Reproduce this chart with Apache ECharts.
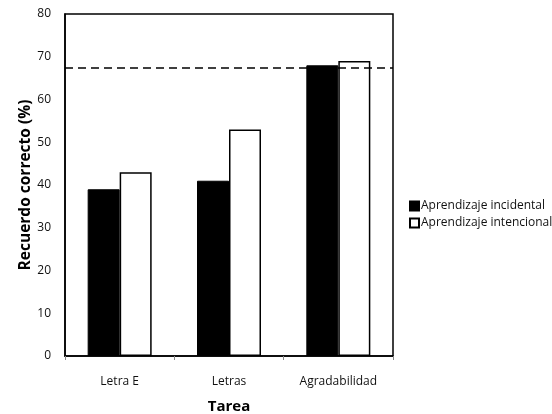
<!DOCTYPE html>
<html><head><meta charset="utf-8">
<script src="https://cdn.jsdelivr.net/npm/echarts@6/dist/echarts.min.js"></script>
<style>html,body{margin:0;padding:0;background:#fff}#c{width:552px;height:414px}</style>
</head><body><div id="c"></div>
<script>
const categories = ['Letra E', 'Letras', 'Agradabilidad'];
const incidental = [39, 41, 68];
const intencional = [43, 53, 69];
const referenceLevel = 67.5;
const seriesNames = ['Aprendizaje incidental', 'Aprendizaje intencional'];
const yTicks = { min: 0, max: 80, interval: 10 };

const font = 'Open Sans';
const chart = echarts.init(document.getElementById('c'));
chart.setOption({
  animation: false,
  backgroundColor: '#fff',
  textStyle: { fontFamily: font },
  grid: { left: 65, right: 159, top: 14, bottom: 58, containLabel: false, outerBoundsMode: 'none', show: true, borderColor: '#000', borderWidth: 1.5, backgroundColor: 'transparent' },
  legend: {
    orient: 'vertical', left: 404, top: 195, itemWidth: 9, itemHeight: 9, itemGap: 5,
    icon: 'rect',
    textStyle: { fontFamily: font, fontSize: 12, color: '#111', padding: [0, 0, 0, -3] },
    data: seriesNames
  },
  xAxis: {
    type: 'category', data: categories,
    name: 'Tarea', nameLocation: 'middle', nameGap: 43, nameMoveOverlap: false,
    nameTextStyle: { fontFamily: font, fontSize: 15, fontWeight: 'bold', color: '#000' },
    axisLine: { lineStyle: { color: '#000', width: 1.5 } },
    axisTick: { show: true, length: 4, lineStyle: { color: '#888' } },
    axisLabel: { fontSize: 12, color: '#111', margin: 20 }
  },
  yAxis: {
    type: 'value', min: yTicks.min, max: yTicks.max, interval: yTicks.interval,
    name: 'Recuerdo correcto (%)', nameLocation: 'middle', nameGap: 31, nameMoveOverlap: false,
    nameTextStyle: { fontFamily: font, fontSize: 15.5, fontWeight: 'bold', color: '#000' },
    axisLine: { show: true, lineStyle: { color: '#000', width: 1.5 } },
    axisTick: { show: false },
    splitLine: { show: false },
    axisLabel: { fontSize: 12, color: '#111', margin: 14 }
  },
  series: [
    {
      name: seriesNames[0], type: 'bar', data: incidental, barWidth: 32, barGap: '0%',
      itemStyle: { color: '#000', borderColor: '#000', borderWidth: 1 },
      markLine: {
        silent: true, symbol: 'none', label: { show: false },
        lineStyle: { color: '#000', type: [8, 5], width: 1.6 },
        data: [{ yAxis: referenceLevel }]
      }
    },
    {
      name: seriesNames[1], type: 'bar', data: intencional, barWidth: 32, barGap: '0%',
      itemStyle: { color: '#fff', borderColor: '#000', borderWidth: 1.5 }
    }
  ]
});
</script></body></html>
